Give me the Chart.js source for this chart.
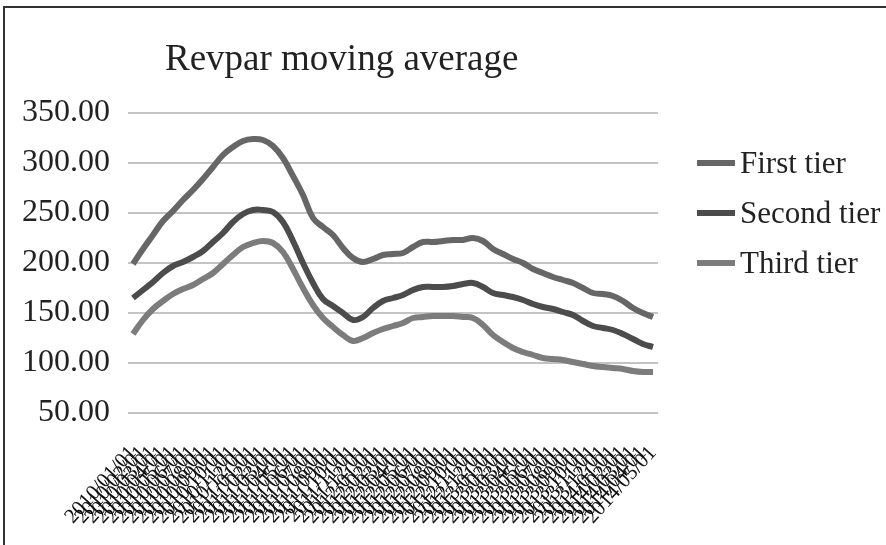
<!DOCTYPE html>
<html>
<head>
<meta charset="utf-8">
<script src="https://cdn.jsdelivr.net/npm/chart.js@4.4.1/dist/chart.umd.min.js"></script>
<style>
  body { margin: 0; background: #fff; }
  #wrap { position: relative; width: 886px; height: 545px; overflow: hidden; }
  #frame { position: absolute; left: 3px; top: 6px; width: 900px; height: 600px; border-top: 2px solid #333; border-left: 2px solid #333; }
  #title { position: absolute; left: 165px; top: 39px; font: 37px "Liberation Serif", serif; line-height: 37px; color: #222; white-space: nowrap; }
  #legend { position: absolute; left: 697px; top: 138px; font: 31px "Liberation Serif", serif; color: #222; }
  .item { height: 50px; display: flex; align-items: center; white-space: nowrap; }
  .swatch { width: 38px; height: 6px; margin-right: 5px; }
  canvas { position: absolute; left: 0; top: 0; }
</style>
</head>
<body>
<div id="wrap">
  <div id="frame"></div>
  <canvas id="chart" width="886" height="545"></canvas>
  <div id="title">Revpar moving average</div>
  <div id="legend"></div>
</div>
<script>
  const categories = [
    "2010/01/01","2010/02/01","2010/03/01","2010/04/01","2010/05/01","2010/06/01","2010/07/01","2010/08/01","2010/09/01","2010/10/01","2010/11/01","2010/12/01",
    "2011/01/01","2011/02/01","2011/03/01","2011/04/01","2011/05/01","2011/06/01","2011/07/01","2011/08/01","2011/09/01","2011/10/01","2011/11/01","2011/12/01",
    "2012/01/01","2012/02/01","2012/03/01","2012/04/01","2012/05/01","2012/06/01","2012/07/01","2012/08/01","2012/09/01","2012/10/01","2012/11/01","2012/12/01",
    "2013/01/01","2013/02/01","2013/03/01","2013/04/01","2013/05/01","2013/06/01","2013/07/01","2013/08/01","2013/09/01","2013/10/01","2013/11/01","2013/12/01",
    "2014/01/01","2014/02/01","2014/03/01","2014/04/01","2014/05/01"
  ];

  const firstTier = [199,214,228,242,252,263,273,284,296,308,316,322,324,323,317,305,287,268,245,236,228,215,205,201,204,208,209,210,216,221,221,222,223,223,225,222,214,209,204,200,194,190,186,183,180,175,170,169,167,162,155,150,146];
  const secondTier = [165,173,181,190,197,201,206,212,221,230,241,249,253,253,251,241,222,200,180,164,157,150,143,146,155,162,165,168,173,176,176,176,177,179,180,176,170,168,166,163,159,156,154,151,148,142,137,135,133,129,124,119,116];
  const thirdTier = [129,143,154,162,169,174,178,184,190,199,208,216,220,222,220,211,194,175,158,145,136,128,122,125,130,134,137,140,145,146,147,147,147,146,145,138,128,121,115,111,108,105,104,103,101,99,97,96,95,94,92,91,91];

  const seriesNames = ["First tier", "Second tier", "Third tier"];
  const seriesColors = ["#666666", "#4c4c4c", "#7c7c7c"];
  const yTicks = [50, 100, 150, 200, 250, 300, 350];

  const serif = '"Liberation Serif", "Times New Roman", serif';

  const datasets = [firstTier, secondTier, thirdTier].map((vals, i) => ({
    label: seriesNames[i],
    data: vals,
    borderColor: seriesColors[i],
    backgroundColor: seriesColors[i],
    borderWidth: 6,
    pointRadius: 0,
    tension: 0.4,
    fill: false
  }));

  // html legend, same order as the datasets
  const legendBox = document.getElementById('legend');
  seriesNames.forEach((name, i) => {
    const row = document.createElement('div');
    row.className = 'item';
    row.innerHTML = `<span class="swatch" style="background:${seriesColors[i]}"></span><span>${name}</span>`;
    legendBox.appendChild(row);
  });

  new Chart(document.getElementById('chart'), {
    type: 'line',
    data: { labels: categories, datasets: datasets },
    options: {
      responsive: false,
      animation: false,
      layout: { padding: { top: 113, right: 228, left: 0, bottom: 0 } },
      plugins: { legend: { display: false }, title: { display: false }, tooltip: { enabled: false } },
      scales: {
        x: {
          offset: true,
          grid: { display: false, drawTicks: false },
          border: { display: false },
          ticks: {
            autoSkip: false,
            minRotation: 48,
            maxRotation: 48,
            padding: 28,
            color: '#111',
            font: { family: serif, size: 21 }
          },
          afterFit: scale => { scale.height = 132; }
        },
        y: {
          min: yTicks[0],
          max: yTicks[yTicks.length - 1],
          afterBuildTicks: scale => { scale.ticks = yTicks.map(v => ({ value: v })); },
          grid: { color: '#c4c4c4', lineWidth: 2, drawTicks: false },
          border: { display: false },
          ticks: {
            padding: 18,
            color: '#222',
            font: { family: serif, size: 32 },
            callback: v => Number(v).toFixed(2)
          },
          afterFit: scale => { scale.width = 128; }
        }
      }
    }
  });
</script>
</body>
</html>
